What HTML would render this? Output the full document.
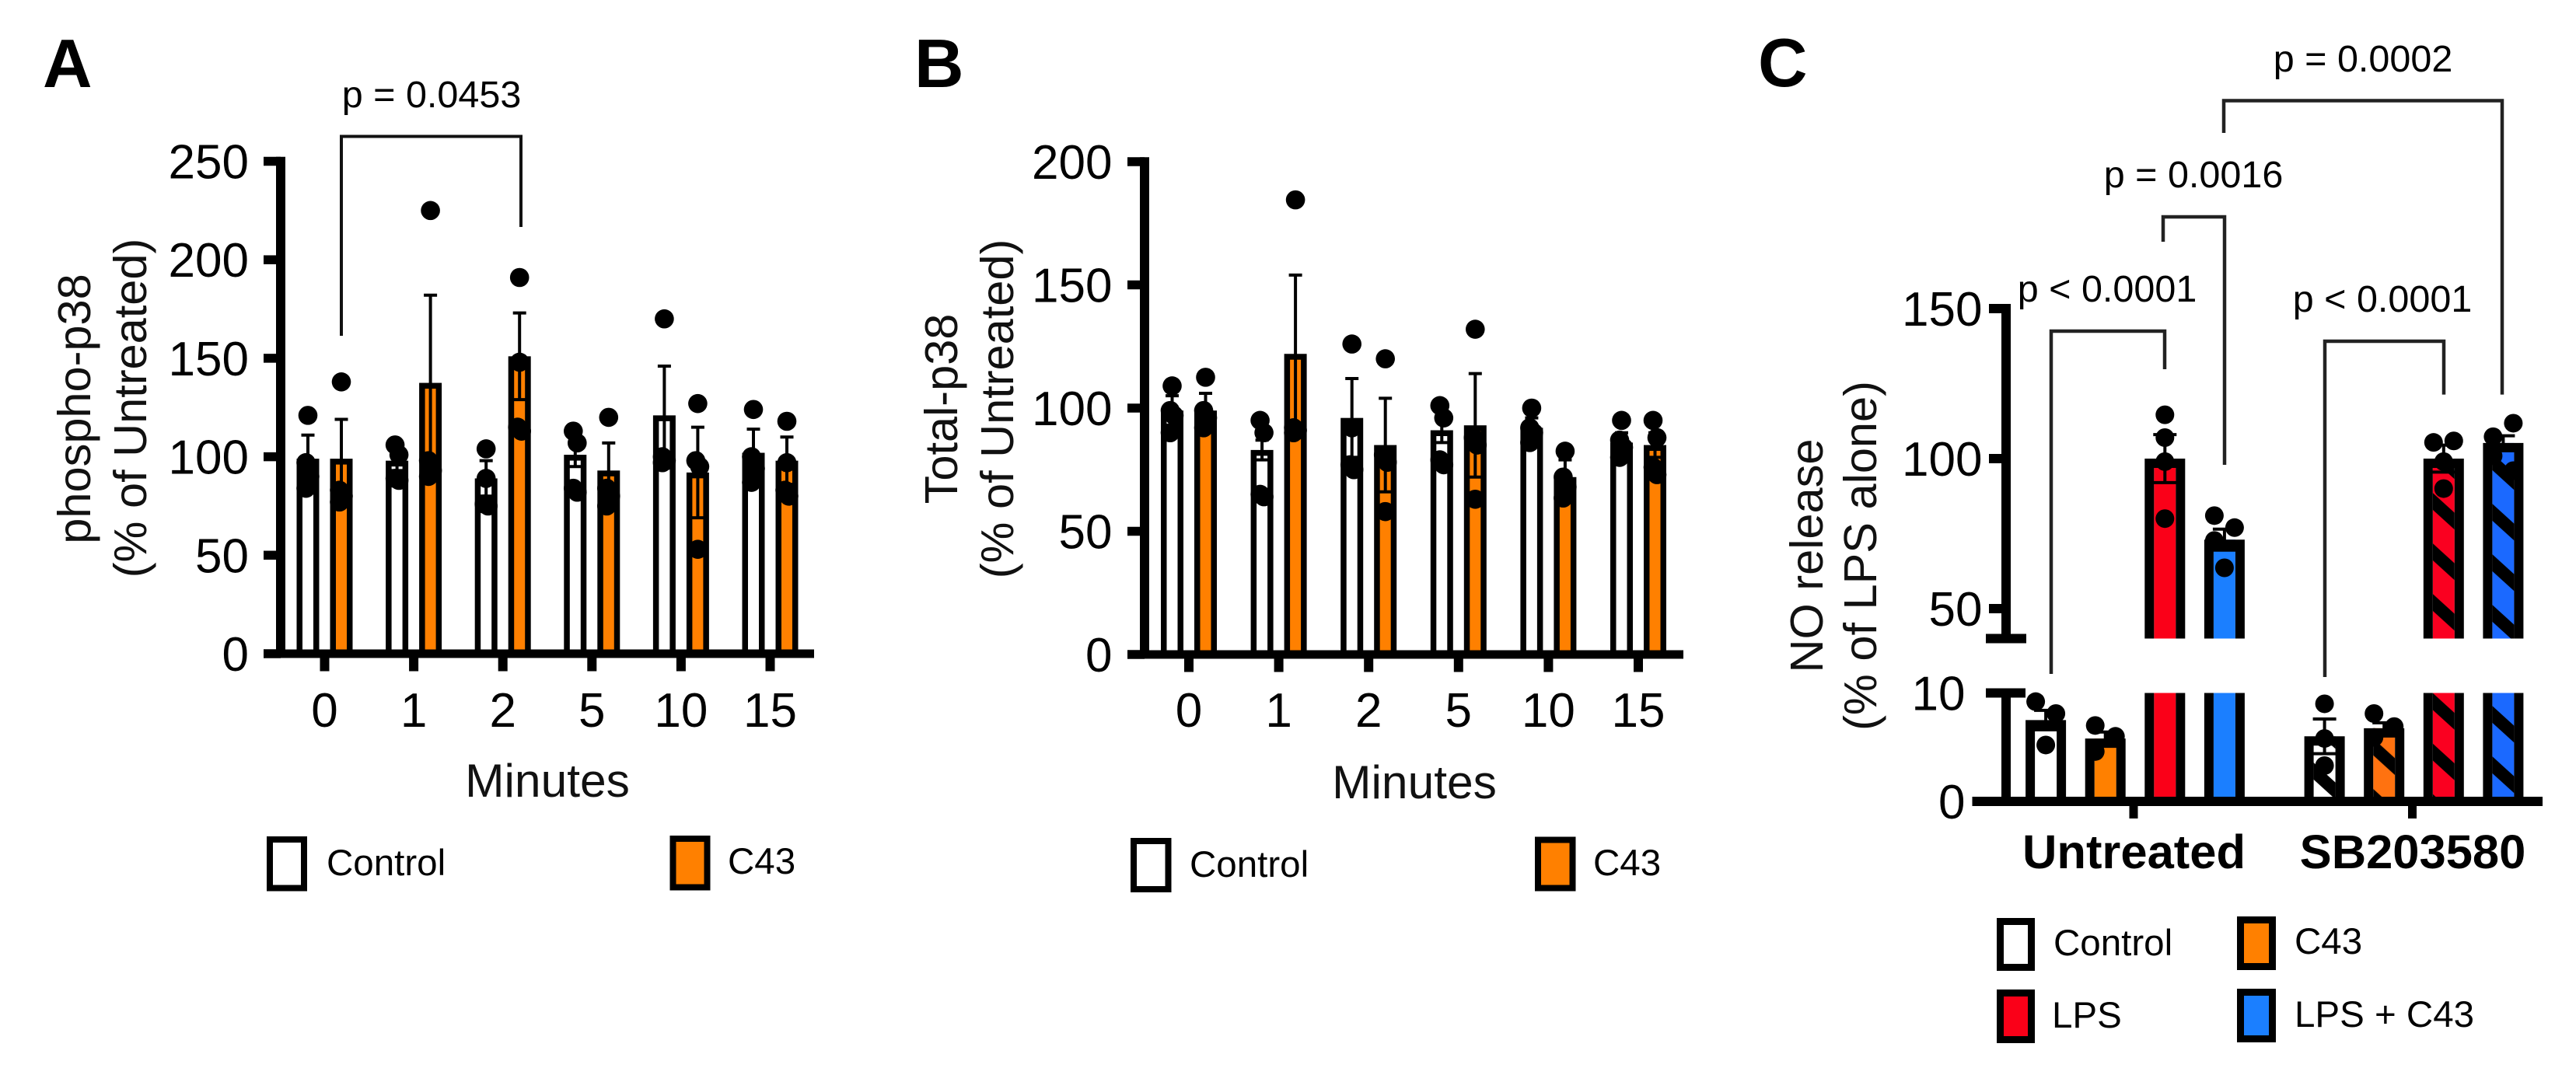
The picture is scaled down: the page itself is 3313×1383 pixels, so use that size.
<!DOCTYPE html>
<html lang="en">
<head>
<meta charset="utf-8">
<title>p38 and NO release charts</title>
<style>
html,body{margin:0;padding:0;background:#fff;}
svg{display:block;}
text{font-family:"Liberation Sans",Arial,sans-serif;fill:#000;}
.tick{font-size:62px;}
.title{font-size:59.5px;fill:#111;}
.xtitle{font-size:60.5px;fill:#111;}
.pval{font-size:48.5px;}
.leg{font-size:47.5px;}
.letter{font-size:88px;font-weight:bold;}
.cat{font-size:61.5px;font-weight:bold;}
</style>
</head>
<body>
<svg id="fig" xmlns="http://www.w3.org/2000/svg" width="3313" height="1383" viewBox="0 0 3313 1383">
  <defs id="defs"></defs>
  <rect width="3313" height="1383" fill="#fff"/>

  <g id="panelA"></g>
  <g id="panelB"></g>
  <g id="panelC"></g>

  <text class="letter" x="55" y="112">A</text>
  <text class="letter" x="1176" y="112">B</text>
  <text class="letter" x="2261" y="111">C</text>

  <text class="title" text-anchor="middle" transform="translate(116,526) rotate(-90)">phospho-p38</text>
  <text class="title" text-anchor="middle" transform="translate(188,525) rotate(-90)">(% of Untreated)</text>
  <text class="xtitle" text-anchor="middle" x="704" y="1025">Minutes</text>
  <text class="pval" text-anchor="middle" x="555" y="138">p = 0.0453</text>
  <path d="M439 432V175.500H670V292" fill="none" stroke="#111" stroke-width="4"/>

  <text class="title" text-anchor="middle" transform="translate(1231,526) rotate(-90)">Total-p38</text>
  <text class="title" text-anchor="middle" transform="translate(1303,526) rotate(-90)">(% of Untreated)</text>
  <text class="xtitle" text-anchor="middle" x="1819" y="1027">Minutes</text>

  <text class="title" text-anchor="middle" fill="#222" transform="translate(2344,715) rotate(-90)">NO release</text>
  <text class="title" text-anchor="middle" fill="#222" transform="translate(2413,715) rotate(-90)">(% of LPS alone)</text>

  <text class="pval" text-anchor="middle" x="3039" y="92">p = 0.0002</text>
  <text class="pval" text-anchor="middle" x="2821" y="241">p = 0.0016</text>
  <text class="pval" text-anchor="middle" x="2710" y="388">p &lt; 0.0001</text>
  <text class="pval" text-anchor="middle" x="3064" y="401">p &lt; 0.0001</text>
  <path d="M2860 171V129.5H3218V507.6" fill="none" stroke="#222" stroke-width="4.500"/>
  <path d="M2782 311V279H2861V598" fill="none" stroke="#222" stroke-width="4.500"/>
  <path d="M2638 867V426H2784V475" fill="none" stroke="#222" stroke-width="4.500"/>
  <path d="M2990 871V439H3143V507.6" fill="none" stroke="#222" stroke-width="4.500"/>

  <rect x="347" y="1080" width="44" height="62.5" fill="#fff" stroke="#000" stroke-width="8"/>
  <text class="leg" x="420" y="1126">Control</text>
  <rect x="865.5" y="1079" width="44" height="62.5" fill="#ff8000" stroke="#000" stroke-width="8"/>
  <text class="leg" x="936" y="1124">C43</text>

  <rect x="1458" y="1082" width="44.5" height="62" fill="#fff" stroke="#000" stroke-width="8"/>
  <text class="leg" x="1530" y="1128">Control</text>
  <rect x="1978" y="1080.5" width="44.5" height="62" fill="#ff8000" stroke="#000" stroke-width="8"/>
  <text class="leg" x="2049" y="1126">C43</text>

  <rect x="2572.500" y="1185.500" width="40" height="59" fill="#fff" stroke="#000" stroke-width="9"/>
  <text class="leg" x="2641" y="1229">Control</text>
  <rect x="2881.500" y="1183.500" width="41" height="60" fill="#ff8000" stroke="#000" stroke-width="9"/>
  <text class="leg" x="2951" y="1227">C43</text>
  <rect x="2572.500" y="1277.500" width="40" height="60" fill="#fa0018" stroke="#000" stroke-width="9"/>
  <text class="leg" x="2639" y="1322">LPS</text>
  <rect x="2881.500" y="1276.500" width="41" height="60" fill="#1b7fff" stroke="#000" stroke-width="9"/>
  <text class="leg" x="2951" y="1321">LPS + C43</text>
</svg>

<script>
// ---------- Panel A data ----------
const aCategories = ['0', '1', '2', '5', '10', '15'];
const aYTicks = [0, 50, 100, 150, 200, 250];
const aControlMean = [99, 98, 89, 101, 121, 102];
const aControlUpper = [111, 103, 98, 107, 146, 114];
const aControlPoints = [[121, 97, 90, 84], [106, 101, 89, 88], [104, 89, 76, 75], [113, 107, 84, 82], [170, 100, 98, 97], [124, 100, 94, 87]];
const aC43Mean = [99, 137.5, 151, 93, 92, 98];
const aC43Upper = [119, 182, 173, 107, 115, 110];
const aC43Points = [[138, 83, 80, 77], [225, 98, 93, 90], [191, 148, 115, 113], [120, 84, 80, 75], [127, 98, 95, 53], [118, 97, 83, 80]];

// ---------- Panel B data ----------
const bCategories = ['0', '1', '2', '5', '10', '15'];
const bYTicks = [0, 50, 100, 150, 200];
const bControlMean = [99, 83, 96, 91, 92, 86];
const bControlUpper = [105, 87, 112, 96, 96, 90];
const bControlPoints = [[109, 99, 97, 90], [95, 90, 65, 64], [126, 92, 77, 75], [101, 96, 79, 77], [100, 92, 90, 86], [95, 87, 84, 80]];
const bC43Mean = [99, 122, 85, 93, 72, 85];
const bC43Upper = [106, 154, 104, 114, 79, 90];
const bC43Points = [[112.5, 99, 96, 92], [184.5, 92, 91, 90], [120, 81, 78, 58], [132, 88, 85, 63], [82.5, 72, 68, 63.5], [95, 88, 76, 73]];

// ---------- Panel C data ----------
const cGroups = ['Untreated', 'SB203580'];
const cSeries = ['control', 'c43', 'lps', 'lps-c43'];
const cUpperTicks = [50, 100, 150];
const cLowerTicks = [0, 10];
const cUntreatedMean = [7.5, 5.8, 100, 73];
const cUntreatedUpper = [8.4, 6.4, 108, 76.5];
const cUntreatedPoints = [[9.2, 8.1, 5.2], [7.0, 6.0, 4.6], [114.6, 107, 99, 80], [81, 77, 72.7, 63.6]];
const cSbMean = [6.0, 6.75, 100, 105.2];
const cSbUpper = [7.6, 7.25, 104.5, 107.6];
const cSbPoints = [[9.0, 5.8, 3.3], [8.1, 6.9, 5.9], [105.4, 105.9, 99, 90], [107.3, 111.8, 100.9, 96]];

const NS = 'http://www.w3.org/2000/svg';
function make(tag, parent, attrs) {
  const el = document.createElementNS(NS, tag);
  for (const k in attrs) el.setAttribute(k, attrs[k]);
  parent.appendChild(el);
  return el;
}

// Points that collide vertically are spread sideways in list order.
function dodge(values, yFn, r, amount) {
  const ys = values.map(yFn);
  const off = values.map(function () { return 0; });
  let start = 0;
  for (let i = 1; i <= ys.length; i++) {
    if (i === ys.length || Math.abs(ys[i] - ys[i - 1]) >= 2 * r) {
      if (i - start > 1) {
        for (let j = start; j < i; j++) off[j] = ((j - start) % 2 === 0 ? -1 : 1) * amount;
      }
      start = i;
    }
  }
  return off;
}

function drawErr(g, x, yMean, yUp, yLow, capW, lw, name) {
  const w = make('path', g, {
    d: 'M' + x + ' ' + yUp + 'V' + yLow + 'M' + (x - capW / 2) + ' ' + yUp + 'H' + (x + capW / 2) +
       'M' + (x - capW / 2) + ' ' + yLow + 'H' + (x + capW / 2),
    fill: 'none', stroke: '#000', 'stroke-width': lw
  });
  
  
}

function drawPoints(g, x, values, yFn, r, amount, name) {
  const off = dodge(values, yFn, r, amount);
  values.forEach(function (v, k) {
    const c = make('circle', g, { cx: x + off[k], cy: yFn(v), r: r, fill: '#000' });
    
    
  });
}

// Panels A and B share the same layout.
function drawSimplePanel(id, prefix, cfg, cats, ticks, ctrlMean, ctrlUp, ctrlPts, c43Mean, c43Up, c43Pts) {
  const g = document.getElementById(id);
  const y = function (v) { return cfg.y0 - v * cfg.pxPerUnit; };
  const xCat = function (i) { return cfg.x0 + i * cfg.step; };
  const sw = 7.5, bw = 29;

  function bar(x, mean, fill, name) {
    const top = y(mean);
    const b = make('rect', g, { x: x - bw / 2 + sw / 2, y: top + sw / 2, width: bw - sw, height: cfg.y0 - top - sw / 2, fill: fill, stroke: '#000', 'stroke-width': sw });
    
    
  }

  cats.forEach(function (cat, i) {
    const xa = xCat(i) - 21.5, xb = xCat(i) + 21.5;
    bar(xa, ctrlMean[i], '#fff', prefix + '-control-' + cat);
    bar(xb, c43Mean[i], '#ff8000', prefix + '-c43-' + cat);
    drawErr(g, xa, y(ctrlMean[i]), y(ctrlUp[i]), y(2 * ctrlMean[i] - ctrlUp[i]), 17, 4, prefix + '-control-' + cat);
    drawErr(g, xb, y(c43Mean[i]), y(c43Up[i]), y(2 * c43Mean[i] - c43Up[i]), 17, 4, prefix + '-c43-' + cat);
    drawPoints(g, xa, ctrlPts[i], y, 12.3, 2.5, prefix + '-control-' + cat);
    drawPoints(g, xb, c43Pts[i], y, 12.3, 2.5, prefix + '-c43-' + cat);
  });

  const top = y(ticks[ticks.length - 1]);
  const yAxis = make('rect', g, { x: cfg.axisX - 6, y: top - 5.75, width: 12, height: cfg.y0 - top + 11, fill: '#000' });
  
  

  const xAxis = make('rect', g, { x: cfg.axisX - 22, y: cfg.y0 - 5.5, width: cfg.axisEnd - cfg.axisX + 22, height: 11, fill: '#000' });
  
  

  ticks.forEach(function (t) {
    const m = make('rect', g, { x: cfg.axisX - 22, y: y(t) - 5.75, width: 22, height: 11.5, fill: '#000' });
    
    
    const l = make('text', g, { x: cfg.labelRight, y: y(t) + 22, 'text-anchor': 'end', class: 'tick' });
    
    
    l.textContent = t;
  });

  cats.forEach(function (cat, i) {
    const m = make('rect', g, { x: xCat(i) - 6, y: cfg.y0, width: 12, height: 22.5, fill: '#000' });
    
    
    const l = make('text', g, { x: xCat(i), y: 935, 'text-anchor': 'middle', class: 'tick' });
    
    
    l.textContent = cat;
  });
}

drawSimplePanel('panelA', 'panel-a',
  { y0: 841, pxPerUnit: 2.534, x0: 417.5, step: 114.6, axisX: 361, axisEnd: 1047, labelRight: 320 },
  aCategories, aYTicks, aControlMean, aControlUpper, aControlPoints, aC43Mean, aC43Upper, aC43Points);

drawSimplePanel('panelB', 'panel-b',
  { y0: 842, pxPerUnit: 3.17, x0: 1529, step: 115.6, axisX: 1472, axisEnd: 2165, labelRight: 1430.5 },
  bCategories, bYTicks, bControlMean, bControlUpper, bControlPoints, bC43Mean, bC43Upper, bC43Points);

// ---------- Panel C ----------
(function () {
  const g = document.getElementById('panelC');
  const defs = document.getElementById('defs');
  const y0 = 1031, yTen = 891.5, breakY = 821.5;
  const yC = function (v) {
    return v <= 10 ? y0 - v * (y0 - yTen) / 10 : 590 - (v - 100) * 3.86;
  };
  const groupX = function (gi) { return 2746 + gi * 358.5; };
  const barX = function (gi, si) { return groupX(gi) + (si - 1.5) * 76.6; };
  const solid = ['#fff', '#ff8000', '#fa0018', '#1b7fff'];
  const hatch = ['#fff', '#ff7210', '#fa0020', '#1b69ff'];
  const phases = [[992, 992], [960.8, 960.8], [645, 902.5], [594, 919]];
  const bw = 52, sw = 12;

  function hatchPattern(si, phase, inner, id) {
    const p = make('pattern', defs, { id: id, patternUnits: 'userSpaceOnUse', x: inner, y: phase, width: 71.4, height: 65 });
    make('rect', p, { width: 71.4, height: 65, fill: hatch[si] });
    const dl = 'M-14.28 -13L85.68 78M-14.28 52L21.42 84.5M50 -19.5L85.68 13';
    make('path', p, { d: dl, stroke: '#000', 'stroke-width': 16, fill: 'none' });
  }

  function drawBar(gi, si, mean, name) {
    const x = barX(gi, si), L = x - bw / 2, inner = L + sw, iw = bw - 2 * sw;
    let fillLow = solid[si], fillUp = solid[si];
    if (gi === 1) {
      hatchPattern(si, phases[si][1], inner, 'hl' + si);
      hatchPattern(si, phases[si][0], inner, 'hu' + si);
      fillLow = 'url(#hl' + si + ')';
      fillUp = 'url(#hu' + si + ')';
    }
    const segs = [];
    if (mean <= 10) {
      segs.push([yC(mean), y0, fillLow, true]);
    } else {
      segs.push([yTen, y0, fillLow, false]);
      segs.push([yC(mean), breakY, fillUp, true]);
    }
    segs.forEach(function (s) {
      const fillRect = make('rect', g, { x: inner, y: s[0], width: iw, height: s[1] - s[0], fill: s[2] });
      
      
      const frame = make('path', g, {
        d: 'M' + L + ' ' + s[1] + 'V' + s[0] + 'H' + (L + bw) + 'V' + s[1] + 'H' + (L + bw - sw) + 'V' + (s[0] + (s[3] ? sw : 0)) + 'H' + (L + sw) + 'V' + s[1] + 'Z',
        fill: '#000'
      });
      
      
    });
  }

  const means = [cUntreatedMean, cSbMean];
  const uppers = [cUntreatedUpper, cSbUpper];
  const points = [cUntreatedPoints, cSbPoints];

  cGroups.forEach(function (group, gi) {
    cSeries.forEach(function (series, si) {
      const name = 'panel-c-' + group.toLowerCase() + '-' + series;
      const m = means[gi][si], u = uppers[gi][si];
      drawBar(gi, si, m, name);
      drawErr(g, barX(gi, si), yC(m), yC(u), yC(2 * m - u), 30, 4, name);
      drawPoints(g, barX(gi, si), points[gi][si], yC, 12, 13, name);
    });
  });

  const upperAxis = make('rect', g, { x: 2574, y: 391, width: 12, height: 436, fill: '#000' });
  
  

  const breakTop = make('rect', g, { x: 2554, y: 815.5, width: 52, height: 12, fill: '#000' });
  
  

  const breakBottom = make('rect', g, { x: 2554, y: 885.5, width: 51, height: 12, fill: '#000' });
  
  

  const lowerAxis = make('rect', g, { x: 2574, y: 885.5, width: 12, height: 151, fill: '#000' });
  
  

  const xAxis = make('rect', g, { x: 2536.5, y: 1025, width: 733.5, height: 12, fill: '#000' });
  
  

  cUpperTicks.forEach(function (t) {
    const m = make('rect', g, { x: 2558, y: yC(t) - 6, width: 20, height: 12, fill: '#000' });
    
    
    const l = make('text', g, { x: 2549.5, y: yC(t) + 22, 'text-anchor': 'end', class: 'tick' });
    
    
    l.textContent = t;
  });

  cLowerTicks.forEach(function (t) {
    const l = make('text', g, { x: 2527.5, y: yC(t) + 22, 'text-anchor': 'end', class: 'tick' });
    
    
    l.textContent = t;
  });

  cGroups.forEach(function (group, gi) {
    const m = make('rect', g, { x: groupX(gi) - 7.5, y: 1037, width: 11, height: 16, fill: '#000' });
    
    
    const l = make('text', g, { x: groupX(gi) - 1.5, y: 1117, 'text-anchor': 'middle', class: 'cat' });
    
    
    l.textContent = group;
  });
})();
</script>
</body>
</html>
